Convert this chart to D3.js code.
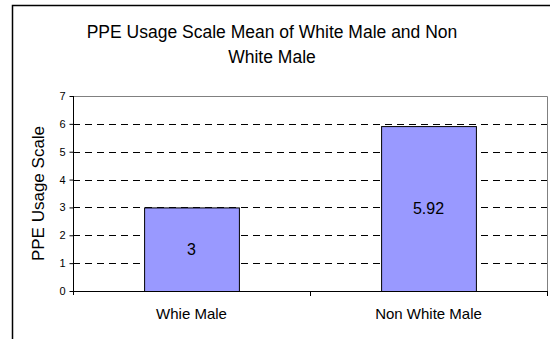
<!DOCTYPE html>
<html>
<head>
<meta charset="utf-8">
<script src="https://cdn.jsdelivr.net/npm/d3@7"></script>
<style>
  html, body { margin: 0; padding: 0; background: #fff; }
  svg { display: block; font-family: "Liberation Sans", Arial, sans-serif; }
</style>
</head>
<body>
<svg id="chart" width="550" height="339"></svg>
<script>
// Mean PPE usage scale score by group
const categories = ["Whie Male", "Non White Male"];
const means = [3, 5.92];
const meanLabels = ["3", "5.92"];
const yTicks = [0, 1, 2, 3, 4, 5, 6, 7];
const titleLines = ["PPE Usage Scale Mean of White Male and Non", "White Male"];
const yTitle = "PPE Usage Scale";

const svg = d3.select("#chart");
const W = 550, H = 339;
const plot = { left: 73, right: 547, top: 96, bottom: 291 };

// outer chart frame (runs past the right and bottom edges)
svg.append("rect")
  .attr("x", 12.5).attr("y", 5.5)
  .attr("width", W + 10).attr("height", H + 10)
  .attr("fill", "#fff").attr("stroke", "#000").attr("stroke-width", 1.5);

const x = d3.scaleBand().domain(categories)
  .range([plot.left, plot.right]).paddingInner(0.6).paddingOuter(0.3);
const xOuter = d3.scaleBand().domain(categories).range([plot.left, plot.right]);
const y = d3.scaleLinear().domain([0, 7]).range([plot.bottom, plot.top]);

// plot frame (top and right sides)
svg.append("path")
  .attr("d", `M${plot.left},${y(7) + 0.5}H${plot.right + 0.5}V${plot.bottom}`)
  .attr("fill", "none").attr("stroke", "#808080").attr("stroke-width", 1);

// dashed gridlines
svg.append("g").selectAll("line")
  .data(yTicks.filter(t => t > 0 && t < 7))
  .join("line")
  .attr("x1", plot.left).attr("x2", plot.right)
  .attr("y1", d => Math.round(y(d)) + 0.5).attr("y2", d => Math.round(y(d)) + 0.5)
  .attr("stroke", "#000").attr("stroke-width", 1)
  .attr("stroke-dasharray", "7,5");

// bars
svg.append("g").selectAll("rect")
  .data(categories)
  .join("rect")
  .attr("x", d => x(d) + 0.5)
  .attr("y", (d, i) => y(means[i]) + 0.5)
  .attr("width", x.bandwidth())
  .attr("height", (d, i) => y(0) - y(means[i]))
  .attr("fill", "#9999FF").attr("stroke", "#000").attr("stroke-width", 1);

// value labels centred in bars
svg.append("g").selectAll("text")
  .data(categories)
  .join("text")
  .attr("x", d => x(d) + x.bandwidth() / 2)
  .attr("y", (d, i) => (y(means[i]) + y(0)) / 2)
  .attr("dy", "0.36em")
  .attr("text-anchor", "middle")
  .attr("font-size", 16)
  .attr("fill", "#000")
  .text((d, i) => meanLabels[i]);

// y axis
const yAxis = d3.axisLeft(y).tickValues(yTicks).tickFormat(d3.format("d"))
  .tickSize(4).tickPadding(4);
const gy = svg.append("g").attr("transform", `translate(${plot.left + 0.5},0)`).call(yAxis);
gy.select(".domain").attr("stroke", "#000").attr("d", `M0,${plot.top}V${plot.bottom + 4}`);
gy.selectAll(".tick line").attr("stroke", "#000");
gy.selectAll(".tick text").attr("font-size", 11).attr("font-family", "Liberation Sans, Arial, sans-serif").attr("fill", "#000");

// x axis
const xAxis = d3.axisBottom(xOuter).tickSize(0).tickPadding(17);
const gx = svg.append("g").attr("transform", `translate(0,${plot.bottom + 0.5})`).call(xAxis);
gx.select(".domain").attr("stroke", "#000").attr("d", `M${plot.left},0H${plot.right + 0.5}`);
gx.selectAll(".tick text").attr("font-size", 15).attr("font-family", "Liberation Sans, Arial, sans-serif").attr("fill", "#000");
// category separators
svg.append("g").selectAll("line")
  .data(categories.slice(1).concat(["__end"]))
  .join("line")
  .attr("x1", d => d === "__end" ? plot.right + 0.5 : xOuter(d) + 0.5)
  .attr("x2", d => d === "__end" ? plot.right + 0.5 : xOuter(d) + 0.5)
  .attr("y1", plot.bottom).attr("y2", plot.bottom + 5)
  .attr("stroke", "#000");

// y axis title
svg.append("text")
  .attr("transform", `translate(44,${(plot.top + plot.bottom) / 2}) rotate(-90)`)
  .attr("text-anchor", "middle")
  .attr("font-size", 17)
  .attr("fill", "#000")
  .text(yTitle);

// chart title
svg.append("g").selectAll("text")
  .data(titleLines)
  .join("text")
  .attr("x", 272)
  .attr("y", (d, i) => 37.5 + i * 25)
  .attr("text-anchor", "middle")
  .attr("font-size", 17.5)
  .attr("fill", "#000")
  .text(d => d);
</script>
</body>
</html>
